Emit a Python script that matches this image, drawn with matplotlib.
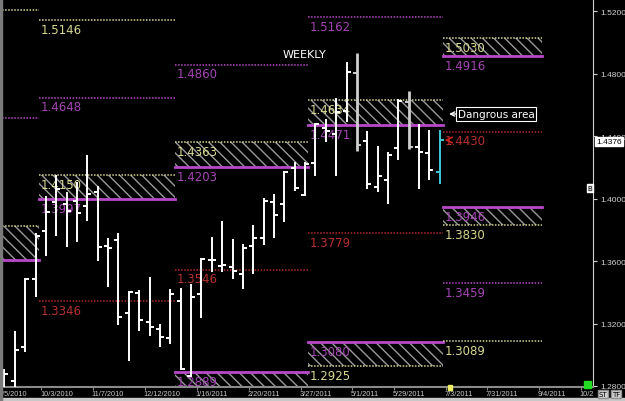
import matplotlib
matplotlib.use('Agg')
import matplotlib.pyplot as plt
import matplotlib.dates as mdates
from matplotlib.patches import Rectangle
import pandas as pd

# Weekly bars (dated mid-week)
bar_start = '2010-09-08'
opens = [1.2812, 1.2831, 1.3049, 1.3485, 1.3793, 1.3979, 1.3966, 1.3985, 1.3953, 1.4043,
         1.3697, 1.3735, 1.3267, 1.3395, 1.3210, 1.3165, 1.3107, 1.3344, 1.2863, 1.3389,
         1.3607, 1.3569, 1.3562, 1.3517, 1.3697, 1.3748, 1.3979, 1.3966, 1.4197, 1.4024,
         1.4229, 1.4453, 1.4415, 1.4562, 1.4806, 1.4370, 1.4075, 1.4120, 1.4325, 1.4620,
         1.4331, 1.4293, 1.4171]
highs = [1.2908, 1.3152, 1.3492, 1.3780, 1.4017, 1.4152, 1.4043, 1.4107, 1.4280, 1.4081,
         1.3748, 1.3780, 1.3408, 1.3415, 1.3498, 1.3197, 1.3421, 1.3427, 1.3453, 1.3620,
         1.3754, 1.3857, 1.3742, 1.3710, 1.3831, 1.4004, 1.4030, 1.4177, 1.4235, 1.4235,
         1.4485, 1.4511, 1.4645, 1.4876, 1.4934, 1.4434, 1.4338, 1.4299, 1.4639, 1.4690,
         1.4479, 1.4440, 1.4440]
lows = [1.2767, 1.2780, 1.3017, 1.3370, 1.3633, 1.3761, 1.3690, 1.3722, 1.3857, 1.3601,
        1.3434, 1.3190, 1.2960, 1.3152, 1.3120, 1.3049, 1.3069, 1.2902, 1.2857, 1.3235,
        1.3530, 1.3530, 1.3485, 1.3421, 1.3517, 1.3703, 1.3748, 1.3851, 1.4049, 1.4017,
        1.4145, 1.4363, 1.4145, 1.4492, 1.4306, 1.4062, 1.4043, 1.3966, 1.4248, 1.4319,
        1.4062, 1.4120, 1.4094]
closes = [1.2876, 1.3030, 1.3485, 1.3761, 1.3915, 1.4062, 1.3921, 1.3908, 1.4030, 1.3690,
          1.3684, 1.3242, 1.3402, 1.3222, 1.3177, 1.3113, 1.3389, 1.2908, 1.3370, 1.3614,
          1.3607, 1.3575, 1.3536, 1.3684, 1.3748, 1.3985, 1.3895, 1.4171, 1.4069, 1.4222,
          1.4479, 1.4434, 1.4556, 1.4812, 1.4344, 1.4094, 1.4145, 1.4280, 1.4626, 1.4331,
          1.4299, 1.4184, 1.4376]
grey_bars = [34, 39]
last_price = 1.4376

# Quarterly pivot segments
seg_start = ['2010-07-01', '2010-10-01', '2011-01-01', '2011-04-01', '2011-07-01']
seg_end = ['2010-10-01', '2011-01-01', '2011-04-01', '2011-07-01', '2011-09-06']

# single pivot lines
lvl_seg = [0, 0, 1, 1, 1, 2, 2, 3, 3, 4, 4, 4]
lvl_price = [1.5209, 1.4517, 1.5146, 1.4648, 1.3346, 1.4860, 1.3546, 1.5162, 1.3779,
             1.4430, 1.3459, 1.3089]
lvl_kind = ['y', 'm', 'y', 'm', 'r', 'm', 'r', 'm', 'r', 'r', 'm', 'y']

# hatched zones
zone_seg = [0, 1, 2, 2, 3, 3, 4, 4]
zone_top = [1.3825, 1.4150, 1.4363, 1.2889, 1.4634, 1.3080, 1.5030, 1.3946]
zone_bot = [1.3607, 1.3997, 1.4203, 1.2730, 1.4471, 1.2925, 1.4916, 1.3830]
zone_top_kind = ['y', 'y', 'y', 'm', 'y', 'm', 'y', 'm']
zone_bot_kind = ['m', 'm', 'm', 'y', 'm', 'y', 'm', 'y']

# date axis
tick_dates = ['2010-09-05', '2010-10-03', '2010-11-07', '2010-12-12', '2011-01-16',
              '2011-02-20', '2011-03-27', '2011-05-01', '2011-05-29', '2011-07-03',
              '2011-07-31', '2011-09-04', '2011-10-02']
tick_labels = ['9/5/2010', '10/3/2010', '11/7/2010', '12/12/2010', '1/16/2011',
               '2/20/2011', '3/27/2011', '5/1/2011', '5/29/2011', '7/3/2011',
               '7/31/2011', '9/4/2011', '10/2']
price_ticks = [1.28, 1.32, 1.36, 1.40, 1.44, 1.48, 1.52]

line_col = {'y': '#d4d490', 'm': '#b848c8', 'r': '#b02828'}
text_col = {'y': '#d8d890', 'm': '#a545b5', 'r': '#b83030'}
small_font = ['Liberation Sans Narrow', 'Liberation Sans']

fig = plt.figure(figsize=(6.25, 4.02), dpi=100, facecolor='black')
ax = fig.add_axes([0, 14 / 402, 593 / 625, 388 / 402], facecolor='black')

dates = pd.date_range(bar_start, periods=len(opens), freq='7D')
xd = mdates.date2num(dates)
half = 2.7  # days

x0 = xd[0]
ax.set_xlim(x0 - 1.7, x0 + 397.4)
ax.set_ylim(1.2793, 1.528)


def seg_x(i):
    return mdates.date2num(pd.Timestamp(seg_start[i])), mdates.date2num(pd.Timestamp(seg_end[i]))


def level_label(xs, price, kind):
    ax.annotate(f'{price:.4f}', xy=(xs, price), xytext=(1.5, -2), textcoords='offset points',
                ha='left', va='top', color=text_col[kind], fontsize=8.5, zorder=3)


# zones
for i in range(len(zone_seg)):
    xs, xe = seg_x(zone_seg[i])
    ax.add_patch(Rectangle((xs, zone_bot[i]), xe - xs, zone_top[i] - zone_bot[i],
                           facecolor='black', edgecolor='#9a9a9a', hatch='\\\\\\',
                           linewidth=0, zorder=1))
    for p, k in ((zone_top[i], zone_top_kind[i]), (zone_bot[i], zone_bot_kind[i])):
        if k == 'm':
            ax.plot([xs, xe], [p, p], color=line_col[k], lw=2, zorder=2)
        else:
            ax.plot([xs, xe], [p, p], color=line_col[k], lw=1.1, ls=(0, (1, 1)), zorder=2)
        level_label(xs, p, k)

# single lines
for i in range(len(lvl_seg)):
    xs, xe = seg_x(lvl_seg[i])
    k = lvl_kind[i]
    ax.plot([xs, xe], [lvl_price[i]] * 2, color=line_col[k], lw=1.1, ls=(0, (1, 1)), zorder=2)
    level_label(xs, lvl_price[i], k)

# OHLC bars
for i in range(len(opens)):
    c, lw = 'white', 1.4
    if i in grey_bars:
        c, lw = '#cfcfcf', 2.0
    if i == len(opens) - 1:
        c = '#40c8d8'
    ax.vlines(xd[i], lows[i], highs[i], color=c, lw=lw, zorder=4)
    ax.hlines(opens[i], xd[i] - half, xd[i], color=c, lw=1.4, zorder=4)
    ax.hlines(closes[i], xd[i], xd[i] + half, color=c, lw=1.4, zorder=4)

# current price arrow
ax.annotate('', xy=(xd[-1] + 1.3, last_price), xytext=(xd[-1] + 8, last_price),
            arrowprops=dict(arrowstyle='->', color='#c82020', lw=1.3), zorder=5)

ax.text(0.514, 0.858, 'WEEKLY', transform=ax.transAxes, color='white', fontsize=8,
        ha='center', va='center')
ax.annotate('Dangrous area', xy=(449 / 593, 1 - 115 / 388), xycoords='axes fraction',
            xytext=(458 / 593, 1 - 115 / 388), textcoords='axes fraction',
            ha='left', va='center', color='white', fontsize=7.5,
            bbox=dict(boxstyle='square,pad=0.15', fc='black', ec='white', lw=0.8),
            arrowprops=dict(arrowstyle='->', color='white', lw=1, shrinkA=0, shrinkB=0),
            zorder=6)

# axes styling
for s in ['top', 'left']:
    ax.spines[s].set_visible(False)
ax.spines['right'].set_color('#d0d0d0')
ax.spines['bottom'].set_color('#8a8a8a')
ax.spines['bottom'].set_linewidth(1.5)
ax.yaxis.tick_right()
ax.set_yticks(price_ticks)
ax.set_yticklabels([f'{p:.4f}' for p in price_ticks], family=small_font)
ax.tick_params(axis='y', colors='#d0d0d0', labelsize=6, length=3, pad=2)
tick_nums = [mdates.date2num(pd.Timestamp(d)) for d in tick_dates]
ax.set_xticks(tick_nums)
ax.set_xticklabels([])
ax.tick_params(axis='x', colors='#8a8a8a', length=2)
for t, lab in zip(tick_nums, tick_labels):
    ax.annotate(lab, xy=(t, 0), xycoords=('data', 'axes fraction'), xytext=(-1, -2),
                textcoords='offset points', ha='left', va='top', color='#c8c8c8',
                fontsize=5.3, family=small_font, annotation_clip=False)

# current price box (sits just under the 1.4400 tick label, as in the terminal)
ax.annotate(f'{last_price:.4f}', xy=(1, last_price), xycoords=('axes fraction', 'data'),
            xytext=(2.5, -1), textcoords='offset points', ha='left', va='center',
            color='black', fontsize=6, family=small_font, annotation_clip=False, zorder=7,
            bbox=dict(boxstyle='square,pad=0.12', fc='white', ec='white'))

# window chrome
fig.patches.append(Rectangle((0, 0), 1, 3 / 402, transform=fig.transFigure,
                             color='#c8c8c8', zorder=0))
fig.patches.append(Rectangle((0, 0), 2 / 625, 1, transform=fig.transFigure,
                             color='#7a7a7a', zorder=0))
fig.patches.append(Rectangle((584 / 625, 13 / 402), 7 / 625, 7 / 402,
                             transform=fig.transFigure, color='#22dd22', zorder=3))
fig.patches.append(Rectangle((448 / 625, 11 / 402), 4 / 625, 5 / 402,
                             transform=fig.transFigure, color='#eeee66', zorder=3))
fig.text(590 / 625, 1 - 189 / 402, 'B', color='black', fontsize=5, ha='center', va='center',
         bbox=dict(boxstyle='square,pad=0.1', fc='#e0e0e0', ec='white'))
fig.text(603 / 625, 7 / 402, 'ST', color='black', fontsize=5, ha='center', va='center',
         bbox=dict(boxstyle='square,pad=0.15', fc='#d0d0d0', ec='#909090'))
fig.text(616 / 625, 7 / 402, 'TF', color='black', fontsize=5, ha='center', va='center',
         bbox=dict(boxstyle='square,pad=0.15', fc='#d0d0d0', ec='#909090'))

fig.savefig('out.png', dpi=100, facecolor='black')
